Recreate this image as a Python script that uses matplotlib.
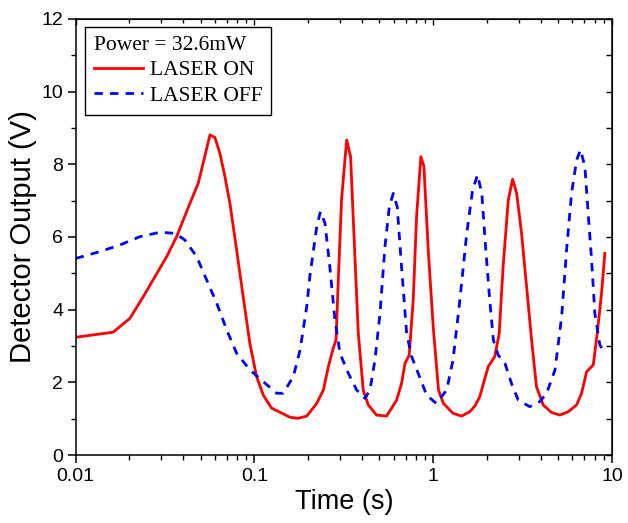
import matplotlib
matplotlib.use('Agg')
from matplotlib import pyplot as plt

# LASER ON (red, solid)
t_on = [0.01, 0.0162, 0.0201, 0.0239, 0.0323, 0.0367, 0.0436, 0.0485, 0.0564, 0.0601,
        0.0641, 0.0684, 0.0729, 0.0795, 0.0865, 0.0943, 0.1028, 0.112, 0.1247, 0.158,
        0.176, 0.196, 0.223, 0.243, 0.259, 0.276, 0.286, 0.294, 0.307, 0.328,
        0.345, 0.360, 0.381, 0.406, 0.433, 0.482, 0.548, 0.585, 0.624, 0.665,
        0.695, 0.734, 0.773, 0.807, 0.853, 0.887, 0.938, 1.0, 1.07, 1.14,
        1.29, 1.44, 1.60, 1.71, 1.82, 1.91, 2.03, 2.21, 2.34, 2.46,
        2.63, 2.78, 2.93, 3.12, 3.33, 3.55, 3.78, 4.12, 4.59, 5.11,
        5.69, 6.34, 6.76, 7.21, 7.86, 8.27, 8.74, 9.12]
v_on = [3.24, 3.38, 3.76, 4.36, 5.46, 6.01, 6.93, 7.48, 8.81, 8.74,
        8.30, 7.66, 6.93, 5.64, 4.36, 3.07, 2.16, 1.65, 1.29, 1.04,
        1.01, 1.07, 1.42, 1.79, 2.43, 2.94, 3.17, 4.73, 7.02, 8.67,
        8.21, 6.10, 3.35, 1.79, 1.38, 1.10, 1.07, 1.29, 1.51, 1.97,
        2.52, 2.75, 4.27, 6.56, 8.21, 7.94, 5.64, 3.53, 1.79, 1.42,
        1.15, 1.07, 1.19, 1.35, 1.60, 1.97, 2.43, 2.71, 3.35, 5.18,
        7.02, 7.59, 7.20, 6.10, 4.63, 3.17, 1.88, 1.38, 1.17, 1.10,
        1.19, 1.38, 1.70, 2.29, 2.48, 3.35, 4.45, 5.55]

# LASER OFF (blue, dashed)
t_off = [0.01, 0.0137, 0.0177, 0.0229, 0.0296, 0.0359, 0.0408, 0.0475, 0.054, 0.0615,
         0.070, 0.0795, 0.0944, 0.112, 0.133, 0.145, 0.165, 0.180, 0.196, 0.204,
         0.223, 0.234, 0.248, 0.264, 0.282, 0.301, 0.335, 0.373, 0.415, 0.443,
         0.472, 0.504, 0.537, 0.568, 0.598, 0.629, 0.665, 0.710, 0.757, 0.824,
         0.918, 1.04, 1.19, 1.29, 1.41, 1.54, 1.66, 1.77, 1.87, 1.95,
         2.07, 2.17, 2.31, 2.52, 2.74, 2.99, 3.47, 3.95, 4.31, 4.80,
         5.23, 5.57, 5.94, 6.34, 6.67, 7.05, 7.36, 7.69, 8.02, 8.55, 9.12]
v_off = [5.41, 5.60, 5.78, 6.01, 6.13, 6.10, 5.92, 5.46, 4.82, 4.18,
         3.44, 2.80, 2.34, 2.02, 1.70, 1.70, 2.16, 2.89, 4.08, 4.91,
         6.28, 6.70, 6.38, 5.18, 3.72, 2.80, 2.25, 1.79, 1.56, 1.79,
         2.61, 3.90, 5.73, 6.83, 7.20, 6.83, 5.18, 3.35, 2.71, 2.25,
         1.65, 1.42, 1.79, 2.61, 4.27, 6.10, 7.29, 7.71, 7.20, 5.92,
         4.27, 3.17, 2.75, 2.52, 1.97, 1.51, 1.33, 1.47, 1.70, 2.34,
         3.81, 5.64, 7.20, 8.12, 8.40, 7.94, 6.65, 5.37, 3.90, 3.03, 2.80]

x_ticks = [0.01, 0.1, 1, 10]
x_ticklabels = ['0.01', '0.1', '1', '10']
y_ticks = [0, 2, 4, 6, 8, 10, 12]

sans = 'Liberation Sans'
serif = 'Liberation Serif'

fig = plt.figure(figsize=(6.28, 5.23), dpi=100)
ax = fig.add_axes([0.1205, 0.130, 0.854, 0.8337])

ax.plot(t_on, v_on, color='red', lw=2.0, label='LASER ON')
ax.plot(t_off, v_off, color='blue', lw=2.0, ls=(0, (3.0, 2.6)), label='LASER OFF')

ax.set_xscale('log')
ax.set_xlim(0.01, 10)
ax.set_ylim(0, 12)
ax.set_xticks(x_ticks)
ax.set_xticklabels(x_ticklabels)
ax.set_yticks(y_ticks)
ax.set_yticks(range(1, 12, 2), minor=True)

for s in ax.spines.values():
    s.set_linewidth(1.1)

ax.tick_params(which='major', direction='out', length=6, width=1.1, labelsize=14, pad=3)
ax.tick_params(which='minor', direction='out', length=3.5, width=1.0)
for lab in ax.get_xticklabels() + ax.get_yticklabels():
    lab.set_fontfamily(sans)

# mirrored ticks on top / right, pointing inward
top = ax.secondary_xaxis('top')
top.set_xticks(x_ticks)
top.tick_params(which='both', direction='in', labeltop=False, width=1.0)
top.tick_params(which='major', length=4)
top.tick_params(which='minor', length=3)
right = ax.secondary_yaxis('right')
right.set_yticks(y_ticks)
right.set_yticks(range(1, 12, 2), minor=True)
right.tick_params(which='both', direction='in', labelright=False, width=1.0, length=4)

ax.set_xlabel('Time (s)', fontsize=19.5, fontfamily=sans, labelpad=3)
ax.set_ylabel('Detector Output (V)', fontsize=21, fontfamily=sans, labelpad=3)

leg = ax.legend(title='Power = 32.6mW', loc='upper left', bbox_to_anchor=(0.017, 0.982),
                borderaxespad=0, fancybox=False, frameon=True, framealpha=1,
                edgecolor='black', prop={'family': serif, 'size': 15.5},
                title_fontproperties={'family': serif, 'size': 15.5},
                alignment='left', handlelength=2.3, handletextpad=0.3,
                labelspacing=0.25, borderpad=0.42)
leg.get_frame().set_linewidth(1.0)

fig.savefig('out.png', dpi=100)
